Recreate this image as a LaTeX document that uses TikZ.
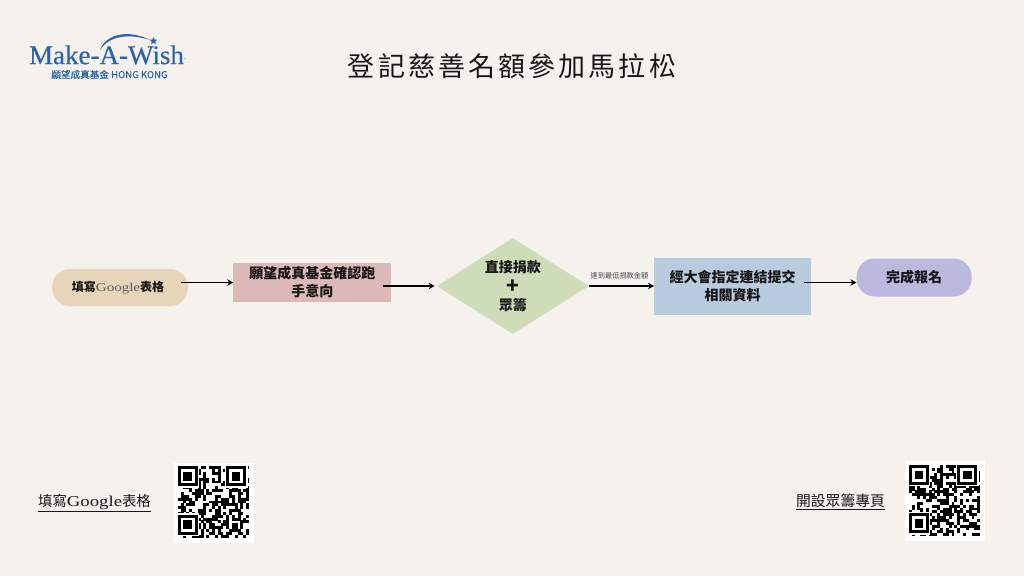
\documentclass[tikz,border=0pt]{standalone}
\usepackage{fontspec}
\setmainfont{Noto Sans CJK TC}
\newfontfamily\logoserif[FakeBold=0.35]{Liberation Serif}
\newfontfamily\logosans[FakeBold=0.3]{Noto Sans CJK TC}
\newfontfamily\wideserif[FakeStretch=1.25]{Liberation Serif}
\usetikzlibrary{shapes.geometric, arrows.meta, positioning}
\definecolor{pagebg}{HTML}{F5F2ED}
\definecolor{wishblue}{HTML}{2B63A8}
\definecolor{inkdark}{HTML}{171717}
\definecolor{tanfill}{HTML}{E6D5B8}
\definecolor{pinkfill}{HTML}{DDB8B8}
\definecolor{greenfill}{HTML}{CEDDB8}
\definecolor{bluefill}{HTML}{B9CBDE}
\definecolor{purplefill}{HTML}{BBB9DD}
\tikzstyle{term}=[rectangle, rounded corners=18pt, align=center, inner sep=0pt, text=inkdark, font=\fontsize{14}{19}\selectfont\bfseries]
\tikzstyle{task}=[rectangle, align=center, inner sep=0pt, text=inkdark, font=\fontsize{14}{18}\selectfont\bfseries]
\tikzstyle{decide}=[diamond, aspect=1.58, align=center, inner sep=0pt, minimum width=152pt, minimum height=96pt, fill=greenfill, text=inkdark, font=\fontsize{14}{19}\selectfont\bfseries]
\tikzstyle{arrow}=[-{Stealth[length=6pt,width=6.5pt]}, line width=1.4pt, black]
\tikzstyle{linklabel}=[inner sep=0pt, text=inkdark, font=\fontsize{14.8}{18}\selectfont]
\tikzstyle{qrbox}=[rectangle, fill=white, minimum size=80pt, inner sep=0pt]
% finder squares and scattered modules of one code
\newcommand{\qrmodules}[2]{
  \pgfmathsetseed{#2}
  \begin{scope}[shift={(#1.north west)}, x=2.85pt, y=-2.85pt, shift={(1.4,1.4)}]
    \foreach \cx in {0,...,24}
      \foreach \cy in {0,...,24} {
        \pgfmathrandominteger{\bit}{0}{99}
        \ifnum\bit<52
          \fill[black] (\cx,\cy) rectangle ++(1.03,1.03);
        \fi
      }
    \foreach \ox/\oy in {0/0, 17/0, 0/17} {
      \fill[white] (\ox-0.5,\oy-0.5) rectangle ++(8,8);
      \fill[black] (\ox,\oy) rectangle ++(7,7);
      \fill[white] (\ox+1,\oy+1) rectangle ++(5,5);
      \fill[black] (\ox+2,\oy+2) rectangle ++(3,3);
    }
  \end{scope}
}

\begin{document}
\begin{tikzpicture}[x=1pt, y=-1pt, node distance=45pt]

\fill[pagebg] (0,0) rectangle (1024,576);
\useasboundingbox (0,0) rectangle (1024,576);

% Logo
\node[inner sep=0pt, text=wishblue, font=\logoserif\fontsize{27}{30}\selectfont] (logoword) at (106.5,55) {Make-A-Wish};
\node[inner sep=0pt, text=wishblue, font=\fontsize{4}{4}\selectfont, right=0pt of logoword.south east, anchor=south west, yshift=3pt] (logomark) {®};
\node[inner sep=0pt, text=wishblue, font=\logosans\fontsize{9.6}{10}\selectfont] (logosub) at (109.5,74.5) {願望成真基金 HONG KONG};
\node[star, star points=5, star point ratio=2.2, fill=wishblue, minimum size=8pt, inner sep=0pt] (logostar) at (153.5,41) {};
\fill[wishblue] (100,50) .. controls (106,34) and (128,29) .. (150,40) .. controls (128,33) and (109,36) .. (100,50) -- cycle;

% Title
\node[inner sep=0pt, text=inkdark, font=\fontsize{27}{30}\selectfont\addfontfeature{LetterSpace=11.5}] (title) at (512,66) {登記慈善名額參加馬拉松};

% Flow
\node[term, fill=tanfill, minimum width=136pt, minimum height=37pt, font=\fontsize{12}{16}\selectfont\bfseries] (form) at (120,287.5) {填寫{\wideserif\mdseries\color{inkdark!70}Google}表格\hspace*{4pt}};
\node[task, fill=pinkfill, minimum width=158pt, minimum height=39pt, right=of form, yshift=5pt] (confirm) {願望成真基金確認跑\\手意向};
\node[decide, right=of confirm, yshift=-3.5pt] (donate) {\raisebox{-1.5pt}{直接捐款}\\\smash{\raisebox{-3.5pt}{\fontsize{21}{19}\selectfont +}}\\\raisebox{-1.5pt}{眾籌}};
\node[task, fill=bluefill, minimum width=157pt, minimum height=57pt, right=65pt of donate] (submit) {經大會指定連結提交\\相關資料};
\node[term, fill=purplefill, minimum width=115pt, minimum height=38pt, right=of submit, yshift=8.5pt] (done) {完成報名};
\node[inner sep=0pt, text=inkdark!80, font=\fontsize{7.2}{9}\selectfont, above right=6.5pt and 1.5pt of donate.east] (amount) {達到最低捐款金額};

% Flow arrows
\draw[arrow] ([xshift=-7pt]form.east |- confirm.west) -- (confirm.west);
\draw[arrow] ([xshift=-9pt]confirm.east |- donate.west) -- ([xshift=-2pt]donate.west);
\draw[arrow] (donate.east) -- (submit.west);
\draw[arrow] ([xshift=-7pt, yshift=3.5pt]submit.east) -- ([yshift=-5pt]done.west);

% Links
\node[linklabel, font=\fontsize{14.4}{18}\selectfont] (linkform) at (94.5,503) {\underline{填寫{\wideserif\fontsize{15}{18}\selectfont Google}表格}};
\node[qrbox] (qrform) at (214,502.5) {};
\node[linklabel] (linkpage) at (840.5,502) {\underline{開設眾籌專頁}};
\node[qrbox] (qrpage) at (945,501) {};
\qrmodules{qrform}{41}
\qrmodules{qrpage}{97}

\end{tikzpicture}
\end{document}
